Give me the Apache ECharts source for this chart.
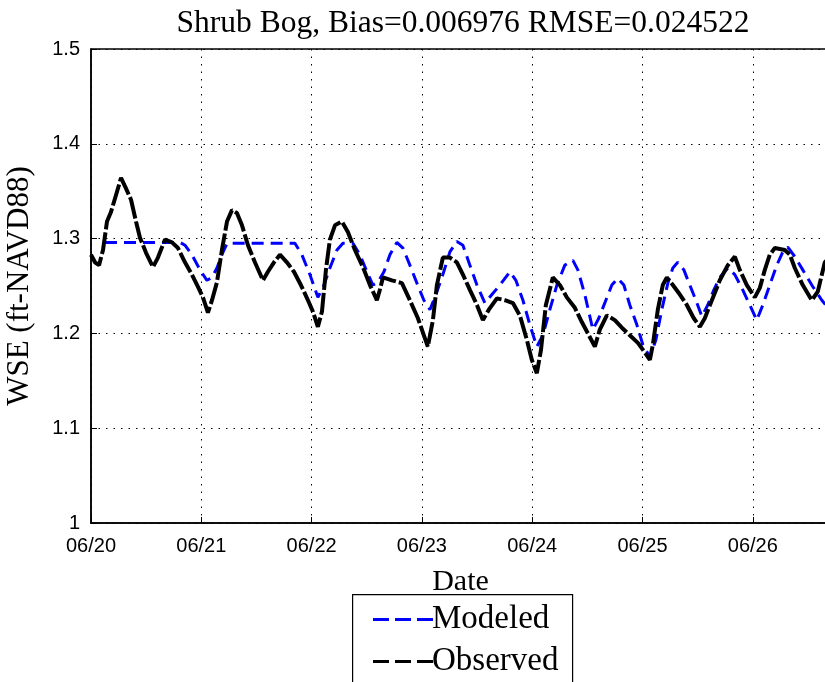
<!DOCTYPE html>
<html>
<head>
<meta charset="utf-8">
<script src="https://cdn.jsdelivr.net/npm/echarts@6/dist/echarts.min.js"></script>
<style>html,body{margin:0;padding:0;background:#fff;}#c{width:825px;height:682px;}</style>
</head>
<body>
<div id="c"></div>
<script>
// x values: days since 06/20 00:00
const titleText = 'Shrub Bog, Bias=0.006976 RMSE=0.024522';
const dayLabels = ['06/20','06/21','06/22','06/23','06/24','06/25','06/26'];
const yTicks = [1, 1.1, 1.2, 1.3, 1.4, 1.5];

const obsDays = [0.000,0.036,0.073,0.109,0.145,0.181,0.227,0.272,0.317,0.363,0.408,0.444,0.499,0.562,0.607,0.671,0.734,0.789,0.852,0.915,0.970,1.015,1.060,1.097,1.142,1.187,1.233,1.278,1.323,1.369,1.423,1.486,1.559,1.604,1.659,1.713,1.776,1.840,1.903,1.967,2.012,2.057,2.094,2.130,2.166,2.212,2.275,2.329,2.393,2.465,2.529,2.592,2.619,2.647,2.728,2.819,2.891,2.964,3.018,3.054,3.100,3.136,3.190,3.254,3.317,3.372,3.435,3.499,3.553,3.607,3.680,3.752,3.825,3.888,3.952,3.997,4.042,4.079,4.124,4.187,4.251,4.314,4.387,4.450,4.514,4.568,4.613,4.677,4.749,4.813,4.885,4.958,5.021,5.067,5.094,5.139,5.184,5.221,5.275,5.339,5.402,5.465,5.520,5.565,5.629,5.701,5.774,5.837,5.882,5.946,6.018,6.064,6.109,6.154,6.200,6.290,6.336,6.381,6.453,6.535,6.589,6.653,6.716];
const obsWSE = [1.283,1.275,1.272,1.288,1.318,1.328,1.346,1.364,1.353,1.341,1.318,1.301,1.285,1.270,1.280,1.299,1.296,1.290,1.275,1.262,1.249,1.238,1.222,1.235,1.254,1.288,1.318,1.330,1.327,1.314,1.293,1.275,1.256,1.265,1.275,1.283,1.275,1.265,1.251,1.235,1.223,1.207,1.223,1.267,1.299,1.314,1.318,1.307,1.288,1.270,1.251,1.235,1.246,1.259,1.256,1.253,1.235,1.216,1.198,1.186,1.214,1.251,1.280,1.280,1.275,1.262,1.246,1.230,1.214,1.225,1.237,1.235,1.232,1.219,1.193,1.172,1.158,1.182,1.230,1.259,1.251,1.238,1.227,1.212,1.198,1.186,1.204,1.219,1.214,1.206,1.198,1.190,1.180,1.172,1.188,1.225,1.251,1.259,1.251,1.241,1.230,1.216,1.207,1.216,1.235,1.256,1.272,1.281,1.267,1.251,1.238,1.248,1.267,1.283,1.290,1.288,1.283,1.269,1.251,1.235,1.244,1.275,1.283];

const modDays = [0.127,0.807,0.852,0.915,0.988,1.051,1.097,1.142,1.187,1.233,1.849,1.912,1.985,2.057,2.112,2.166,2.230,2.284,2.375,2.438,2.502,2.556,2.601,2.656,2.710,2.773,2.828,2.891,2.955,3.018,3.073,3.127,3.190,3.254,3.317,3.372,3.435,3.499,3.571,3.635,3.707,3.798,3.852,3.916,3.979,4.042,4.097,4.160,4.224,4.296,4.369,4.414,4.477,4.550,4.604,4.668,4.722,4.776,4.831,4.885,4.949,5.003,5.067,5.121,5.175,5.230,5.275,5.320,5.375,5.429,5.484,5.538,5.592,5.647,5.701,5.774,5.837,5.900,5.973,6.036,6.091,6.154,6.218,6.272,6.317,6.381,6.453,6.535,6.626,6.698];
const modWSE = [1.296,1.296,1.293,1.283,1.267,1.256,1.259,1.269,1.283,1.295,1.295,1.283,1.262,1.238,1.251,1.269,1.288,1.295,1.295,1.283,1.265,1.251,1.254,1.265,1.283,1.296,1.290,1.272,1.253,1.235,1.225,1.241,1.262,1.286,1.297,1.293,1.272,1.251,1.232,1.241,1.251,1.265,1.256,1.235,1.209,1.186,1.198,1.225,1.251,1.272,1.277,1.267,1.241,1.204,1.216,1.235,1.251,1.258,1.251,1.230,1.209,1.188,1.175,1.193,1.225,1.253,1.269,1.275,1.267,1.251,1.235,1.218,1.230,1.246,1.259,1.269,1.262,1.248,1.230,1.214,1.230,1.251,1.272,1.286,1.291,1.281,1.267,1.251,1.235,1.225];

const pair = (xs, ys) => xs.map((x, i) => [x, ys[i]]);
const serif = 'Liberation Serif, Times New Roman, serif';
const sans = 'Liberation Sans Narrow, Arial Narrow, Liberation Sans, Arial, sans-serif';
const dashIcon = 'path://M0,0h16v3h-16z M22,0h16v3h-16z M44,0h16v3h-16z';

const chart = echarts.init(document.getElementById('c'), null, {renderer: 'canvas'});
chart.setOption({
  backgroundColor: '#ffffff',
  animation: false,
  title: {
    text: titleText, left: 458, top: 3, textAlign: 'center',
    textStyle: {fontFamily: serif, fontSize: 31.5, fontWeight: 'normal', color: '#000'}
  },
  grid: {left: 91, top: 49, right: -5, bottom: 159, show: true, borderColor: '#000', borderWidth: 1.5,
         containLabel: false, outerBoundsMode: 'none'},
  xAxis: {
    type: 'value', min: 0, max: 6.7, interval: 1,
    name: 'Date', nameLocation: 'middle', nameGap: 44,
    nameTextStyle: {fontFamily: serif, fontSize: 30, color: '#000'},
    axisLine: {lineStyle: {color: '#000', width: 1.5}},
    axisTick: {inside: true, length: 6, lineStyle: {color: '#000'}},
    axisLabel: {fontFamily: sans, fontSize: 20, color: '#000', margin: 13, showMaxLabel: false,
      formatter: v => Math.abs(v - Math.round(v)) < 1e-6 ? (dayLabels[Math.round(v)] || '') : ''},
    splitLine: {show: true, lineStyle: {color: '#000', type: [1.5, 6], width: 1}}
  },
  yAxis: {
    type: 'value', min: 1, max: 1.5, interval: 0.1,
    name: 'WSE (ft-NAVD88)', nameLocation: 'middle', nameGap: 56,
    nameTextStyle: {fontFamily: serif, fontSize: 31, color: '#000'},
    axisLine: {show: true, lineStyle: {color: '#000', width: 1.5}},
    axisTick: {show: true, inside: true, length: 6, lineStyle: {color: '#000'}},
    axisLabel: {fontFamily: sans, fontSize: 20, color: '#000', margin: 11,
      formatter: v => { const t = yTicks.find(k => Math.abs(k - v) < 1e-6); return t === undefined ? '' : String(t); }},
    splitLine: {show: true, lineStyle: {color: '#000', type: [1.5, 6], width: 1}}
  },
  legend: {
    orient: 'vertical', left: 373, top: 603, height: 90,
    data: [{name: 'Modeled', icon: dashIcon}, {name: 'Observed', icon: dashIcon}],
    padding: 0, itemGap: 9, itemWidth: 60, itemHeight: 3,
    textStyle: {fontFamily: serif, fontSize: 33, color: '#000', padding: [0, 0, 0, -6]}
  },
  graphic: [{
    type: 'rect', left: 352, top: 594, z: 0,
    shape: {width: 220, height: 110},
    style: {fill: '#fff', stroke: '#000', lineWidth: 1.2}
  }],
  series: [
    {name: 'Modeled', type: 'line', data: pair(modDays, modWSE), symbol: 'none', z: 2,
     lineStyle: {color: '#0000ff', width: 3, type: [12, 7]}, itemStyle: {color: '#0000ff'}},
    {name: 'Observed', type: 'line', data: pair(obsDays, obsWSE), symbol: 'none', z: 3,
     lineStyle: {color: '#000', width: 4, type: [22, 3]}, itemStyle: {color: '#000'}}
  ]
});
</script>
</body>
</html>
